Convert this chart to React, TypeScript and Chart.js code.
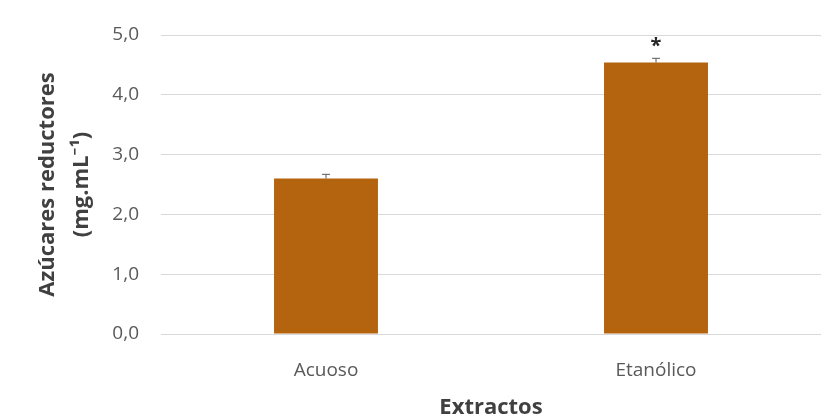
import React, { useEffect, useRef } from "react";
import { Chart, registerables } from "chart.js";

Chart.register(...registerables);

// Reducing sugar content per extract type
const categories = ["Acuoso", "Etanólico"];
const sugarValues = [2.6, 4.54];
const sugarErrors = [0.07, 0.07];
const significance = ["", "*"];
const yTicks = [0, 1, 2, 3, 4, 5];

const BAR_COLOR = "#B4640E";
const TEXT_COLOR = "#595959";
const TITLE_COLOR = "#404040";
const GRID_COLOR = "#D9D9D9";
const FONT = "'Open Sans', 'Noto Sans', sans-serif";

// Draws plus error bars and significance marks above each bar
const errorBarPlugin = {
  id: "errorBars",
  afterDatasetsDraw(chart: any) {
    const { ctx, scales } = chart;
    const meta = chart.getDatasetMeta(0);
    const y = scales.y;
    ctx.save();
    meta.data.forEach((bar: any, i: number) => {
      const x = bar.x;
      const yVal = y.getPixelForValue(sugarValues[i]);
      const yTop = y.getPixelForValue(sugarValues[i] + sugarErrors[i]);
      ctx.strokeStyle = "#595959";
      ctx.lineWidth = 1;
      ctx.beginPath();
      ctx.moveTo(x, yVal);
      ctx.lineTo(x, yTop);
      ctx.moveTo(x - 4, yTop);
      ctx.lineTo(x + 4, yTop);
      ctx.stroke();
      if (significance[i]) {
        ctx.fillStyle = "#262626";
        ctx.font = `bold 20px ${FONT}`;
        ctx.textAlign = "center";
        ctx.textBaseline = "middle";
        ctx.fillText(significance[i], x, yTop - 12);
      }
    });
    ctx.restore();
  },
};

export default function App() {
  const canvasRef = useRef<HTMLCanvasElement>(null);

  useEffect(() => {
    const canvas = canvasRef.current;
    if (!canvas) return;
    const chart = new Chart(canvas, {
      type: "bar",
      data: {
        labels: categories,
        datasets: [
          {
            data: sugarValues,
            backgroundColor: BAR_COLOR,
            borderWidth: 0,
            barPercentage: 1,
            categoryPercentage: 0.315,
          },
        ],
      },
      options: {
        responsive: false,
        animation: false,
        layout: { padding: { top: 35, right: 2, left: 0, bottom: 0 } },
        plugins: {
          legend: { display: false },
          tooltip: { enabled: false },
        },
        scales: {
          x: {
            grid: { display: false },
            border: { display: false },
            ticks: {
              color: TEXT_COLOR,
              font: { family: FONT, size: 19 },
              padding: 17,
            },
            title: {
              display: true,
              text: "Extractos",
              color: TITLE_COLOR,
              font: { family: FONT, size: 22, weight: "bold", lineHeight: 1 },
              padding: { top: 0, bottom: -3 },
            },
            afterFit: (scale: any) => {
              scale.height = 82;
            },
          },
          y: {
            min: 0,
            max: 5,
            afterBuildTicks: (scale: any) => {
              scale.ticks = yTicks.map((v) => ({ value: v }));
            },
            grid: { color: GRID_COLOR, drawTicks: false, lineWidth: 1 },
            border: { display: false },
            ticks: {
              color: TEXT_COLOR,
              font: { family: FONT, size: 19 },
              padding: 22,
              callback: (v: any) => Number(v).toFixed(1).replace(".", ","),
            },
            title: {
              display: true,
              text: ["Azúcares reductores", "(mg.mL\u207B\u00B9)"],
              color: TITLE_COLOR,
              font: { family: FONT, size: 22, weight: "bold", lineHeight: 1.545 },
              padding: { top: 31, bottom: 0 },
            },
            afterFit: (scale: any) => {
              scale.width = 161;
            },
          },
        },
      },
      plugins: [errorBarPlugin],
    });
    return () => chart.destroy();
  }, []);

  return (
    <div
      style={{
        position: "fixed",
        left: 0,
        top: 0,
        width: 823,
        height: 416,
        background: "#ffffff",
      }}
    >
      <canvas ref={canvasRef} width={823} height={416} />
    </div>
  );
}
